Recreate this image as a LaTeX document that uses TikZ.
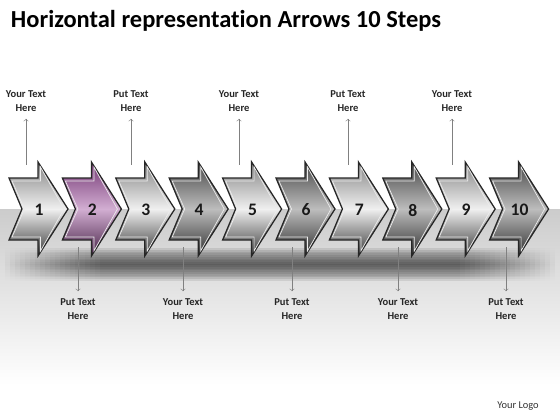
\documentclass[tikz,border=0pt]{standalone}
\usepackage{fontspec}
\setmainfont{Carlito}[Ligatures={NoCommon}]
\usetikzlibrary{fadings}
\definecolor{stepviolet}{HTML}{9A4A9A}
\tikzfading[name=bandfade, top color=transparent!100, bottom color=transparent!100, middle color=transparent!0]
\tikzset{
    lightstep/.style={top color=black!48, bottom color=black!78, middle color=black!6},
    darkstep/.style={top color=black!72, bottom color=black!82, middle color=black!26},
    purplestep/.style={top color=stepviolet!75!black, bottom color=stepviolet!45!black, middle color=stepviolet!45!white},
    stepnum/.style={font=\bfseries\fontsize{12.5}{14}\selectfont, text=black!90, inner sep=0pt},
    lbl/.style={font=\bfseries\fontsize{7.5}{10}\selectfont, align=center, text=black!85, inner sep=1pt},
    tick/.style={->, gray, line width=0.4pt, shorten >=4pt}
}
\begin{document}
\begin{tikzpicture}[x=0.025cm, y=-0.025cm]
    \useasboundingbox (0,0) rectangle (560,420);

    % floor and shadow band
    \shade[top color=black!20, bottom color=white] (0,209) rectangle (560,385);
    \foreach \k in {0,...,19} {
        \fill[black, opacity=0.04, path fading=bandfade] (5+5*\k,247) rectangle (555-5*\k,281);
    }

    % the ten steps
    \foreach \i/\s in {1/lightstep,2/purplestep,3/lightstep,4/darkstep,5/lightstep,6/darkstep,7/lightstep,8/darkstep,9/lightstep,10/darkstep} {
        \pgfmathsetmacro\x{9+53.4*(\i-1)}
        \shade[\s, draw=black!85, line width=0.9pt, line join=miter]
            (\x,178) -- ++(29,0) -- ++(0,-16) -- ++(30,47) -- ++(-30,47) -- ++(0,-16) -- ++(-29,0) -- ++(13,-31) -- cycle;
        \draw[white!85!gray, line width=0.5pt]
            (\x+3,181) -- (\x+31.5,181) -- (\x+31.5,167) -- (\x+55,209) -- (\x+31.5,251) -- (\x+31.5,237) -- (\x+3,237) -- (\x+15.5,209) -- cycle;
        \node[stepnum] (n\i) at (\x+30,210) {\i};
    }

    % labels above
    \foreach \i/\x/\w in {1/26/Your,2/131/Put,3/239/Your,4/348/Put,5/452/Your} {
        \node[lbl] (t\i) at (\x,101) {\w{} Text\\Here};
        \coordinate (u\i) at (\x,165);
        \draw[tick] (u\i) -- (t\i);
    }

    % labels below
    \foreach \i/\x/\w in {1/78/Put,2/183/Your,3/292/Put,4/398/Your,5/506/Put} {
        \node[lbl] (b\i) at (\x,309) {\w{} Text\\Here};
        \coordinate (d\i) at (\x,247);
        \draw[tick] (d\i) -- (b\i);
    }

    \node[anchor=base west, font=\bfseries\fontsize{17.4}{20}\selectfont] (title) at (6,28) {Horizontal representation Arrows 10 Steps};
    \node[font=\fontsize{7.4}{9}\selectfont, text=black!80] (logo) at (518,406) {Your Logo};
\end{tikzpicture}
\end{document}
